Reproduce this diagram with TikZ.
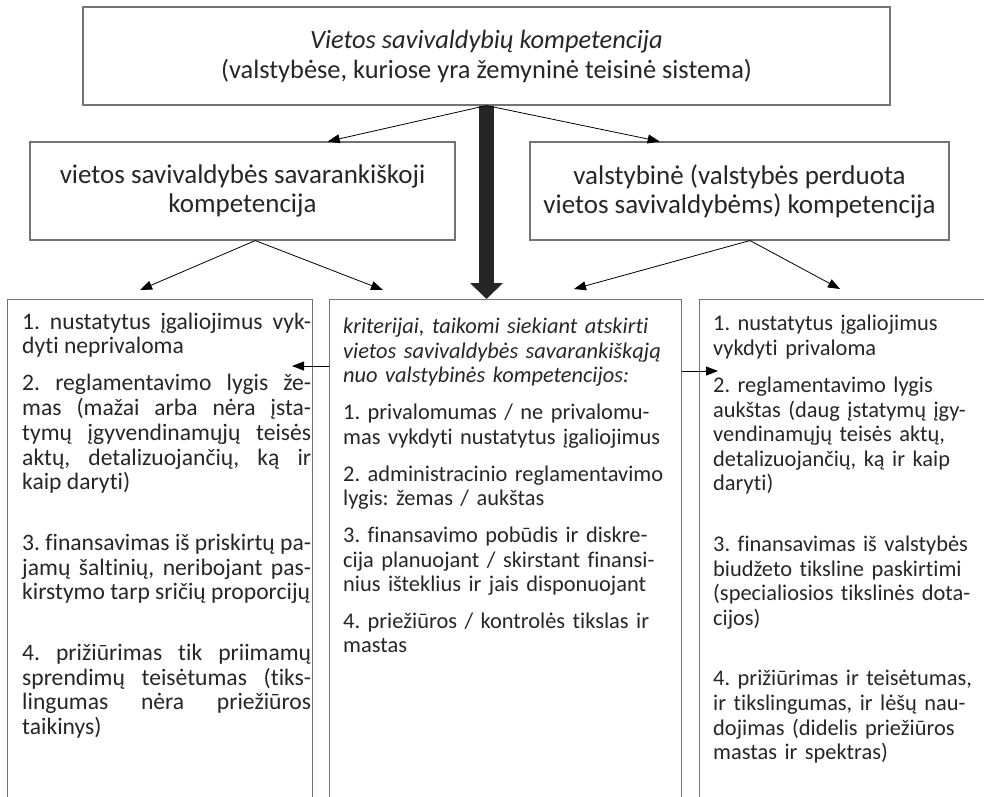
\documentclass[tikz,border=0pt]{standalone}
\usepackage{fontspec}
\setmainfont{Carlito}[Ligatures={NoCommon}]
\usetikzlibrary{arrows.meta,calc}
\frenchspacing

\begin{document}
\lineskiplimit=-9pt
\begin{tikzpicture}[x=1pt,y=-1pt,
    box/.style={draw=black!55, line width=1.1pt, inner sep=0pt, text=black!85, align=center},
    col/.style={draw=black!55, line width=1.1pt, anchor=north west, minimum height=540pt},
    coltext/.style={anchor=north west, inner sep=0pt, text=black!85},
    arrow/.style={-{Triangle[length=12pt,width=9pt]}, line width=0.8pt},
    bigarrow/.style={-{Triangle[length=16pt,width=32pt]}, line width=15pt, black!85}
]
    \useasboundingbox (0,0) rectangle (984,796);
    % top and second row
    \node[box, minimum width=807pt, minimum height=98pt, font=\fontsize{26.4}{30}\selectfont] (top) at (486.5,56)
        {{\itshape Vietos savivaldybių kompetencija}\\(valstybėse, kuriose yra žemyninė teisinė sistema)};
    \node[box, minimum width=425pt, minimum height=98pt, font=\fontsize{27}{29}\selectfont] (lbox) at (242.5,191)
        {vietos savivaldybės savarankiškoji\\kompetencija};
    \node[box, minimum width=419pt, minimum height=98pt, font=\fontsize{27}{29}\selectfont] (rbox) at (739.5,191)
        {valstybinė (valstybės perduota\\vietos savivaldybėms) kompetencija};
    % columns
    \node[col, minimum width=305pt] (lcol) at (7,299) {};
    \node[col, minimum width=352pt] (mcol) at (329,299) {};
    \node[col, minimum width=320pt] (rcol) at (699,299) {};

    \node[coltext, text width=289pt, align=justify, font=\fontsize{23.6}{24.7}\selectfont] (ltext) at (22,312.5) {%
        1. nustatytus įgaliojimus vyk-\linebreak dyti neprivaloma\par\vspace{12.5pt}
        2. reglamentavimo lygis že-\linebreak mas (mažai arba nėra įsta-\linebreak tymų įgyvendinamųjų teisės\linebreak aktų, detalizuojančių, ką ir\linebreak kaip daryti)\par\vspace{36pt}
        3. finansavimas iš priskirtų pa-\linebreak jamų šaltinių, neribojant pas-\linebreak kirstymo tarp sričių proporcijų\par\vspace{36pt}
        4. prižiūrimas tik priimamų\linebreak sprendimų teisėtumas (tiks-\linebreak lingumas nėra priežiūros\linebreak taikinys)};
    \node[coltext, text width=350pt, align=left, font=\fontsize{22.4}{24.4}\selectfont] (mtext) at (343,318) {%
        {\itshape kriterijai, taikomi siekiant atskirti\\vietos savivaldybės savarankiškąją\\nuo valstybinės kompetencijos:\par}\vspace{12.7pt}
        1. privalomumas / ne privalomu-\\mas vykdyti nustatytus įgaliojimus\par\vspace{12.7pt}
        2. administracinio reglamentavimo\\lygis: žemas / aukštas\par\vspace{12.7pt}
        3. finansavimo pobūdis ir diskre-\\cija planuojant / skirstant finansi-\\nius išteklius ir jais disponuojant\par\vspace{12.7pt}
        4. priežiūros / kontrolės tikslas ir\\mastas};
    \node[coltext, text width=285pt, align=left, font=\fontsize{22.4}{24.6}\selectfont] (rtext) at (713,315) {%
        1. nustatytus įgaliojimus\\vykdyti privaloma\par\vspace{12.5pt}
        2. reglamentavimo lygis\\aukštas (daug įstatymų įgy-\\vendinamųjų teisės aktų,\\detalizuojančių, ką ir kaip\\daryti)\par\vspace{36pt}
        3. finansavimas iš valstybės\\biudžeto tiksline paskirtimi\\(specialiosios tikslinės dota-\\cijos)\par\vspace{36pt}
        4. prižiūrimas ir teisėtumas,\\ir tikslingumas, ir lėšų nau-\\dojimas (didelis priežiūros\\mastas ir spektras)};

    % arrow tips
    \coordinate (la) at (140,290);
    \coordinate (lb) at (383,290);
    \coordinate (ra) at (574,289);
    \coordinate (rb) at (840,289);
    \coordinate (lin) at (292,366);
    \coordinate (rin) at (718,371);

    \draw[bigarrow] (top.south) -- (top.south |- mcol.north);
    \draw[arrow] (top.south) -- ($(lbox.north west)!.70!(lbox.north east)$);
    \draw[arrow] (top.south) -- ($(rbox.north west)!.31!(rbox.north east)$);
    \draw[arrow] ($(lbox.south west)!.53!(lbox.south east)$) -- (la);
    \draw[arrow] ($(lbox.south west)!.53!(lbox.south east)$) -- (lb);
    \draw[arrow] ($(rbox.south west)!.525!(rbox.south east)$) -- (ra);
    \draw[arrow] ($(rbox.south west)!.525!(rbox.south east)$) -- (rb);
    \draw[arrow] (lin -| mcol.west) -- (lin);
    \draw[arrow] (rin -| mcol.east) -- (rin);
\end{tikzpicture}
\end{document}
